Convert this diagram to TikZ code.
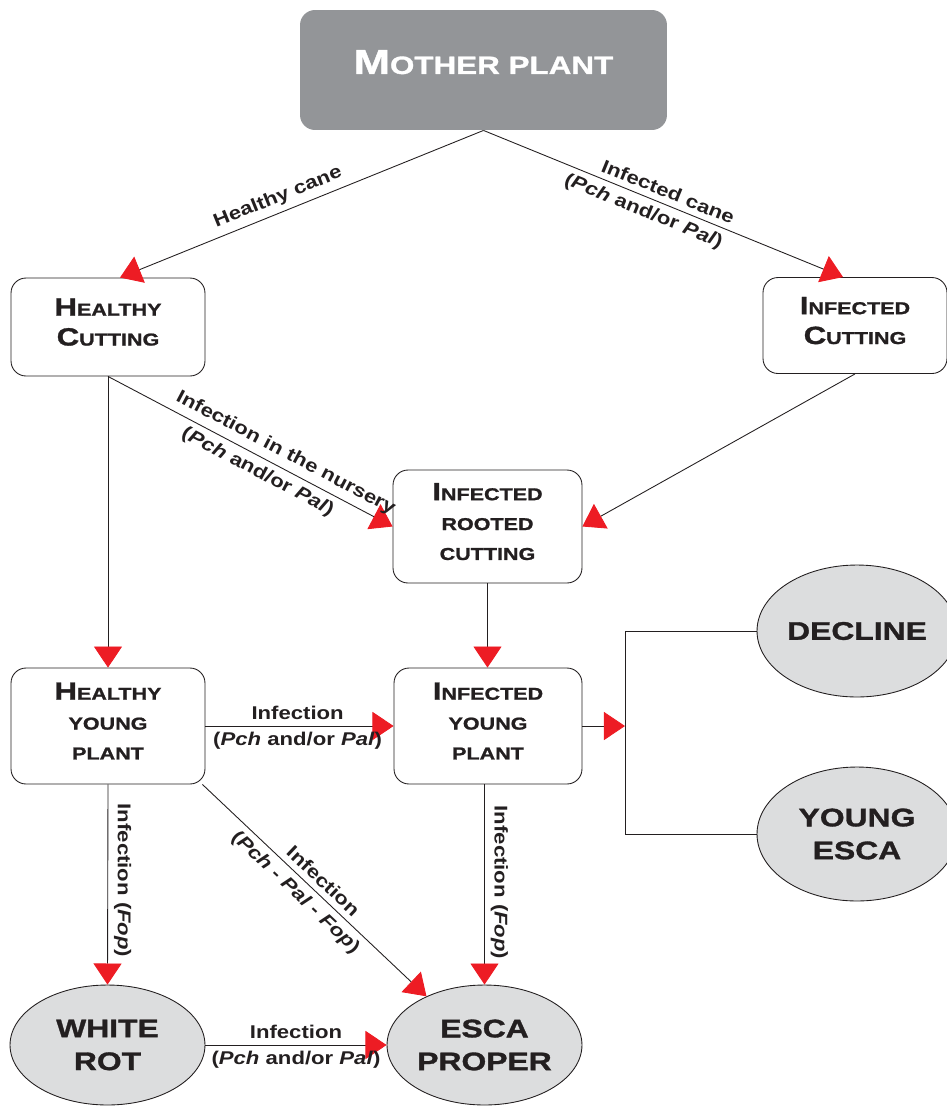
\documentclass[tikz,border=0pt]{standalone}
\usepackage{fontspec}
\setmainfont{Liberation Sans}
\newfontfamily\headfont[FakeStretch=1.25,FakeBold=1.2,UprightFont={* Bold}]{Liberation Sans}
\newfontfamily\labfont[FakeStretch=1.2,UprightFont={* Bold},ItalicFont={* Bold Italic}]{Liberation Sans}
\usetikzlibrary{arrows.meta,shapes.geometric}

\definecolor{motherGray}{HTML}{939598}
\definecolor{paleGray}{HTML}{DCDDDE}
\definecolor{tipRed}{HTML}{ED1C24}
\definecolor{inkBlack}{HTML}{231F20}

\newcommand{\firstcap}[1]{{\fontsize{14.2}{17}\selectfont #1}}
\newcommand{\pchpal}{(\textit{Pch} and/or \textit{Pal})}
% lifts the lines of a box a little above its centre
\newcommand{\liftup}{\\[-11.3pt]\mbox{}}

\tikzset{
    box/.style={draw=inkBlack, line width=0.5pt, rounded corners=0.3cm, align=center,
        text=inkBlack, inner sep=0pt, font={\headfont\fontsize{9.8}{17}\selectfont}},
    oval/.style={ellipse, draw=inkBlack, line width=0.5pt, fill=paleGray, align=center,
        text=inkBlack, inner sep=0pt, font={\headfont\fontsize{14.5}{18.7}\selectfont}},
    lab/.style={text=inkBlack, font={\labfont\fontsize{10.5}{12.6}\selectfont}},
    vlab/.style={lab, rotate=-90, anchor=south},
    link/.style={draw=inkBlack, line width=0.5pt},
    arr/.style={link, -{Triangle[width=16pt,length=12pt,tipRed]}}
}

\begin{document}
\begin{tikzpicture}[x=0.02cm, y=-0.02cm]
    \useasboundingbox (0,0) rectangle (947,1110);

    % boxes
    \node[box, draw=none, fill=motherGray, text=white, minimum width=7.34cm, minimum height=2.4cm,
        text depth=0.32cm, font={\headfont\fontsize{14.3}{17}\selectfont}] (mother) at (483.5,70)
        {{\fontsize{19.8}{17}\selectfont M}OTHER PLANT};
    \node[box, minimum width=3.88cm, minimum height=1.96cm] (hc) at (108,327) {\firstcap{H}EALTHY\\\firstcap{C}UTTING\liftup};
    \node[box, minimum width=3.68cm, minimum height=1.92cm] (ic) at (855,325.5) {\firstcap{I}NFECTED\\\firstcap{C}UTTING\liftup};
    \node[box, minimum width=3.78cm, minimum height=2.26cm] (rc) at (487.5,526.5) {\firstcap{I}NFECTED\\ROOTED\\CUTTING\liftup};
    \node[box, minimum width=3.88cm, minimum height=2.32cm] (hyp) at (108,726) {\firstcap{H}EALTHY\\YOUNG\\PLANT\liftup};
    \node[box, minimum width=3.76cm, minimum height=2.32cm] (iyp) at (488,726) {\firstcap{I}NFECTED\\YOUNG\\PLANT\liftup};

    % outcomes
    \node[oval, minimum width=4cm, minimum height=2.64cm] (dc) at (857,631) {DECLINE};
    \node[oval, minimum width=4cm, minimum height=2.68cm] (ye) at (857,834) {YOUNG\\ESCA};
    \node[oval, minimum width=3.9cm, minimum height=2.4cm] (wr) at (107.5,1045) {WHITE\\ROT};
    \node[oval, minimum width=3.9cm, minimum height=2.4cm] (ep) at (484.5,1045) {ESCA\\PROPER};

    \coordinate (br) at (625,726);

    % from the mother plant
    \draw[arr] (mother.south) -- node[lab, sloped, above, pos=0.55] {Healthy cane} ([xshift=0.24cm]hc.north);
    \draw[arr] (mother.south) -- node[lab, sloped, above, pos=0.5] {Infected cane}
        node[lab, sloped, below, pos=0.46] {\pchpal} ([xshift=-0.24cm]ic.north);

    % cuttings
    \draw[arr] (hc.south) -- (hc.south |- hyp.north);
    \draw[arr] (hc.south) -- node[lab, sloped, above, pos=0.6] {Infection in the nursery}
        node[lab, sloped, below, pos=0.55] {\pchpal} (rc.west);
    \draw[arr] (ic.south) -- (rc.east);
    \draw[arr] (rc.south) -- (rc.south |- iyp.north);

    % young plants
    \draw[arr] (hyp.east) -- node[lab, above, pos=0.49] {Infection} node[lab, below, pos=0.49] {\pchpal} (iyp.west);
    \draw[arr] (iyp.east) -- (br);
    \draw[link] (dc.west) -- (dc.west -| br) -- (ye.west -| br) -- (ye.west);
    \draw[arr] (hyp.south) -- node[vlab, pos=0.48] {Infection (\textit{Fop})} (wr.north);
    \draw[arr] ([xshift=-0.06cm]hyp.south east) -- node[lab, sloped, above, pos=0.5] {Infection}
        node[lab, sloped, below, pos=0.46] {(\textit{Pch} - \textit{Pal} - \textit{Fop})} (ep.140);
    \draw[arr] (iyp.south -| ep.north) -- node[vlab, pos=0.49] {Infection (\textit{Fop})} (ep.north);
    \draw[arr] (wr.east) -- node[lab, above, pos=0.5] {Infection} node[lab, below, pos=0.5] {\pchpal} (ep.west);
\end{tikzpicture}
\end{document}
